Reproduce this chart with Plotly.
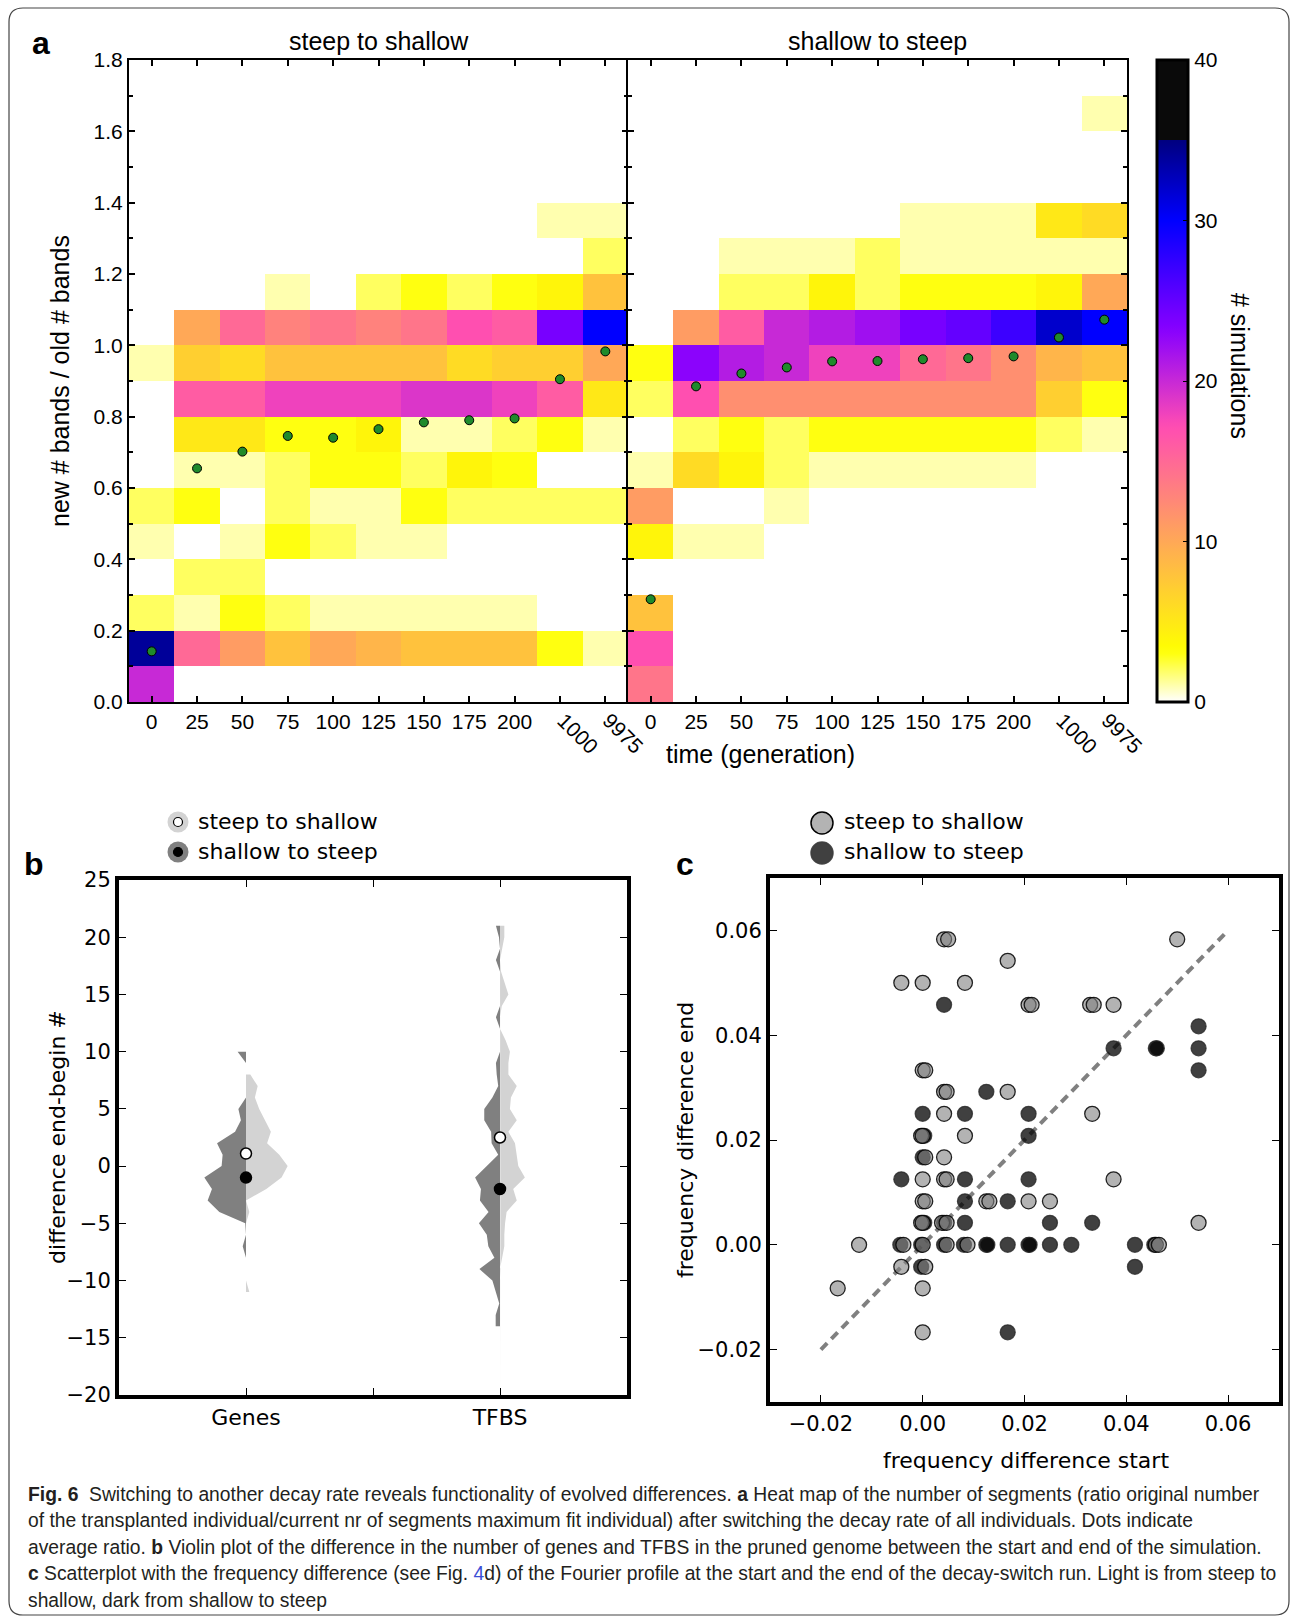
import plotly.graph_objects as go

W, H = 1295, 1621
def px(x): return x / W
def py(y): return 1 - y / H

# ---------------- DATA ----------------
time_labels = ['0', '25', '50', '75', '100', '125', '150', '175', '200', '1000', '9975']
ratio_bins = [0.05, 0.15, 0.25, 0.35, 0.45, 0.55, 0.65, 0.75, 0.85, 0.95,
              1.05, 1.15, 1.25, 1.35, 1.45, 1.55, 1.65, 1.75]

# rows = ratio bins (bottom to top), columns = time points
steep_to_shallow_counts = [
    [20, 0, 0, 0, 0, 0, 0, 0, 0, 0, 0],
    [34, 15, 11, 8, 10, 9, 8, 8, 8, 3, 1],
    [2, 1, 3, 2, 1, 1, 1, 1, 1, 0, 0],
    [0, 2, 2, 0, 0, 0, 0, 0, 0, 0, 0],
    [1, 0, 1, 3, 2, 1, 1, 0, 0, 0, 0],
    [2, 3, 0, 2, 1, 1, 3, 2, 2, 2, 2],
    [0, 1, 1, 2, 3, 3, 2, 4, 3, 0, 0],
    [0, 5, 5, 3, 3, 4, 1, 1, 2, 3, 1],
    [0, 16, 16, 18, 18, 18, 19, 19, 18, 16, 5],
    [1, 7, 6, 8, 8, 8, 8, 6, 7, 7, 10],
    [0, 10, 15, 13, 14, 13, 14, 17, 16, 24, 30],
    [0, 0, 0, 1, 0, 2, 3, 2, 3, 4, 8],
    [0, 0, 0, 0, 0, 0, 0, 0, 0, 0, 2],
    [0, 0, 0, 0, 0, 0, 0, 0, 0, 1, 1],
    [0, 0, 0, 0, 0, 0, 0, 0, 0, 0, 0],
    [0, 0, 0, 0, 0, 0, 0, 0, 0, 0, 0],
    [0, 0, 0, 0, 0, 0, 0, 0, 0, 0, 0],
    [0, 0, 0, 0, 0, 0, 0, 0, 0, 0, 0],
]
shallow_to_steep_counts = [
    [14, 0, 0, 0, 0, 0, 0, 0, 0, 0, 0],
    [17, 0, 0, 0, 0, 0, 0, 0, 0, 0, 0],
    [8, 0, 0, 0, 0, 0, 0, 0, 0, 0, 0],
    [0, 0, 0, 0, 0, 0, 0, 0, 0, 0, 0],
    [4, 1, 1, 0, 0, 0, 0, 0, 0, 0, 0],
    [11, 0, 0, 1, 0, 0, 0, 0, 0, 0, 0],
    [1, 6, 4, 2, 1, 1, 1, 1, 1, 0, 0],
    [0, 2, 3, 2, 3, 3, 3, 3, 3, 2, 1],
    [2, 17, 12, 12, 12, 12, 12, 12, 12, 7, 3],
    [3, 23, 21, 20, 18, 18, 15, 14, 12, 9, 8],
    [0, 11, 16, 20, 21, 22, 24, 25, 27, 32, 30],
    [0, 0, 2, 2, 4, 2, 3, 3, 3, 4, 10],
    [0, 0, 1, 1, 1, 2, 1, 1, 1, 1, 1],
    [0, 0, 0, 0, 0, 0, 1, 1, 1, 5, 6],
    [0, 0, 0, 0, 0, 0, 0, 0, 0, 0, 0],
    [0, 0, 0, 0, 0, 0, 0, 0, 0, 0, 0],
    [0, 0, 0, 0, 0, 0, 0, 0, 0, 0, 1],
    [0, 0, 0, 0, 0, 0, 0, 0, 0, 0, 0],
]
steep_to_shallow_mean = [0.142, 0.655, 0.702, 0.746, 0.741, 0.765, 0.784, 0.790, 0.795, 0.905, 0.983]
shallow_to_steep_mean = [0.288, 0.885, 0.921, 0.938, 0.955, 0.956, 0.961, 0.964, 0.969, 1.022, 1.072]
colorbar_ticks = [0, 10, 20, 30, 40]

# violin (b): half-widths per integer level
violin_categories = ['Genes', 'TFBS']
genes_dark_levels = [10, 9, 8, 7, 6, 5, 4, 3, 2, 1, 0, -1, -2, -3, -4, -5, -6, -7, -8]
genes_dark_widths = [0.033, 0, 0, 0, 0, 0.03, 0.02, 0.043, 0.114, 0.092, 0.096, 0.164, 0.134, 0.151, 0.105, 0.003, 0, 0.013, 0]
genes_light_levels = [8, 7, 6, 5, 4, 3, 2, 1, 0, -1, -2, -3, -4, -5, -6, -7, -8, -9, -10, -11]
genes_light_widths = [0.017, 0.046, 0.035, 0.052, 0.075, 0.098, 0.083, 0.131, 0.164, 0.14, 0.08, 0.0, 0.013, 0, 0, 0, 0, 0, 0, 0.013]
tfbs_dark_levels = [21, 20, 19, 18, 17, 16, 15, 14, 13, 12, 11, 10, 9, 8, 7, 6, 5, 4, 3, 2, 1, 0,
                    -1, -2, -3, -4, -5, -6, -7, -8, -9, -10, -11, -12, -13, -14]
tfbs_dark_widths = [0.016, 0.004, 0, 0.016, 0, 0, 0, 0, 0.016, 0, 0, 0, 0.016, 0.013, 0.007, 0.03, 0.062, 0.062, 0.035, 0.033, 0.007, 0.052,
                    0.098, 0.075, 0.079, 0.045, 0.083, 0.052, 0.046, 0.022, 0.081, 0.03, 0.017, 0.003, 0.017, 0.017]
tfbs_light_levels = [21, 20, 19, 18, 17, 16, 15, 14, 13, 12, 11, 10, 9, 8, 7, 6, 5, 4, 3, 2, 1, 0,
                     -1, -2, -3, -4, -5, -6, -7, -8, -9, -10, -15, -20]
tfbs_light_widths = [0.017, 0.017, 0.007, 0, 0.004, 0.02, 0.033, 0.007, 0, 0, 0.022, 0.039, 0.033, 0.033, 0.066, 0.043, 0.039, 0.066, 0.033, 0.059, 0.066, 0.072,
                     0.098, 0.052, 0.066, 0.026, 0.02, 0.017, 0.017, 0.007, 0.0, 0.002, 0.002, 0.002]
steep_to_shallow_violin_mean = [1.1, 2.5]
shallow_to_steep_violin_mean = [-1.0, -2.0]

# scatter (c)
light_x = [0.0042, 0.0050, 0.0167, -0.0042, 0.0, 0.0083, 0.0208, 0.0214, 0.0329, 0.0336, 0.0375, 0.05,
           0.0, 0.0005, 0.0042, 0.0047, 0.0167, 0.0042, 0.0333, -0.0003, 0.0, 0.0083, 0.0005, 0.0042,
           0.0, 0.0042, 0.0047, 0.0375, 0.0, 0.0005, 0.0125, 0.0131, 0.0208, 0.025, -0.0003, 0.0,
           0.0038, 0.0047, 0.0542, -0.0125, -0.0038, 0.0, 0.0047, 0.0088, 0.0458, 0.0464,
           -0.0042, 0.0005, -0.0167, 0.0, 0.0]
light_y = [0.0583, 0.0583, 0.0542, 0.05, 0.05, 0.05, 0.0458, 0.0458, 0.0458, 0.0458, 0.0458, 0.0583,
           0.0333, 0.0333, 0.0292, 0.0292, 0.0292, 0.025, 0.025, 0.0208, 0.0208, 0.0208, 0.0167, 0.0167,
           0.0125, 0.0125, 0.0125, 0.0125, 0.0083, 0.0083, 0.0083, 0.0083, 0.0083, 0.0083, 0.0042, 0.0042,
           0.0042, 0.0042, 0.0042, 0.0, 0.0, 0.0, 0.0, 0.0, 0.0, 0.0,
           -0.0042, -0.0042, -0.0083, -0.0083, -0.0167]
dark_x = [0.0042, 0.0125, 0.0, 0.0083, 0.0208, 0.0003, 0.0208, 0.0, -0.0042, 0.0083, 0.0208,
          0.0083, 0.0167, 0.0003, 0.0042, 0.0083, 0.025, 0.0333,
          -0.0044, -0.0003, 0.0042, 0.0081, 0.0125, 0.0127, 0.0167, 0.0208, 0.0210, 0.025, 0.0292, 0.0417, 0.0455,
          -0.0003, 0.0417, 0.0167, 0.0542, 0.0375, 0.0458, 0.0460, 0.0542, 0.0542]
dark_y = [0.0458, 0.0292, 0.025, 0.025, 0.025, 0.0208, 0.0208, 0.0167, 0.0125, 0.0125, 0.0125,
          0.0083, 0.0083, 0.0042, 0.0042, 0.0042, 0.0042, 0.0042,
          0.0, 0.0, 0.0, 0.0, 0.0, 0.0, 0.0, 0.0, 0.0, 0.0, 0.0, 0.0, 0.0,
          -0.0042, -0.0042, -0.0167, 0.0417, 0.0375, 0.0375, 0.0375, 0.0375, 0.0333]
diag_x = [-0.02, 0.06]
diag_y = [-0.02, 0.06]

# ---------------- COLORMAP (gnuplot2 reversed) ----------------
def clip(v): return max(0.0, min(1.0, v))
def gnuplot2(x):
    r = clip(x / 0.32 - 0.78125)
    g = clip(2 * x - 0.84)
    if x < 0.25:
        b = 4 * x
    elif x < 0.92:
        b = -2 * x + 1.84
    else:
        b = x / 0.08 - 11.5
    b = clip(b)
    return 'rgb(%d,%d,%d)' % (round(r * 255), round(g * 255), round(b * 255))

cscale = []
n = 70
for i in range(n + 1):
    p = 0.875 * i / n
    cscale.append([p, gnuplot2(1 - p)])
cscale.append([0.875, 'rgb(10,10,10)'])
cscale.append([1.0, 'rgb(10,10,10)'])

FA = 'Liberation Sans, Arial, sans-serif'
FD = 'DejaVu Sans, sans-serif'

fig = go.Figure()

# ---------------- PANEL A ----------------
cols = list(range(len(time_labels)))
fig.add_trace(go.Heatmap(
    z=steep_to_shallow_counts, x=cols, y=ratio_bins, xaxis='x', yaxis='y',
    colorscale=cscale, zmin=0, zmax=40, showscale=True, hoverinfo='skip',
    colorbar=dict(x=px(1157), xanchor='left', y=py(381), yanchor='middle',
                  len=642, lenmode='pixels', thickness=31, xpad=0, ypad=0,
                  outlinewidth=3, outlinecolor='black',
                  tickvals=colorbar_ticks, ticks='inside', ticklen=6, tickcolor='black',
                  tickfont=dict(family=FA, size=21, color='black'))))
fig.add_trace(go.Heatmap(
    z=shallow_to_steep_counts, x=cols, y=ratio_bins, xaxis='x2', yaxis='y2',
    colorscale=cscale, zmin=0, zmax=40, showscale=False, hoverinfo='skip'))
for xa, ya, m in [('x', 'y', steep_to_shallow_mean), ('x2', 'y2', shallow_to_steep_mean)]:
    fig.add_trace(go.Scatter(x=cols, y=m, xaxis=xa, yaxis=ya, mode='markers',
                             marker=dict(size=9, color='#1f8a2b', line=dict(color='black', width=1)),
                             showlegend=False, hoverinfo='skip'))

# ---------------- PANEL B ----------------
def half_poly(center, levels, widths, side):
    xs = [center] + [center + side * w for w in widths] + [center, center]
    ys = [levels[0]] + list(levels) + [levels[-1], levels[0]]
    return xs, ys

for center, lv, wd, side, col in [
        (1, genes_dark_levels, genes_dark_widths, -1, '#808080'),
        (1, genes_light_levels, genes_light_widths, 1, '#d3d3d3'),
        (2, tfbs_dark_levels, tfbs_dark_widths, -1, '#808080'),
        (2, tfbs_light_levels, tfbs_light_widths, 1, '#d3d3d3')]:
    xs, ys = half_poly(center, lv, wd, side)
    fig.add_trace(go.Scatter(x=xs, y=ys, xaxis='x3', yaxis='y3', mode='lines', fill='toself',
                             fillcolor=col, line=dict(width=0, color=col),
                             showlegend=False, hoverinfo='skip'))
fig.add_trace(go.Scatter(x=[1, 2], y=steep_to_shallow_violin_mean, xaxis='x3', yaxis='y3', mode='markers',
                         marker=dict(size=11, color='white', line=dict(color='black', width=1.5)),
                         showlegend=False, hoverinfo='skip'))
fig.add_trace(go.Scatter(x=[1, 2], y=shallow_to_steep_violin_mean, xaxis='x3', yaxis='y3', mode='markers',
                         marker=dict(size=11, color='black', line=dict(color='black', width=1.5)),
                         showlegend=False, hoverinfo='skip'))

# ---------------- PANEL C ----------------
fig.add_trace(go.Scatter(x=diag_x, y=diag_y, xaxis='x4', yaxis='y4', mode='lines',
                         line=dict(color='#808080', width=4, dash='9px,6px'),
                         showlegend=False, hoverinfo='skip'))
fig.add_trace(go.Scatter(x=dark_x, y=dark_y, xaxis='x4', yaxis='y4', mode='markers',
                         marker=dict(size=15, color='rgba(0,0,0,0.75)',
                                     line=dict(color='rgba(40,40,40,0.8)', width=1.3)),
                         showlegend=False, hoverinfo='skip'))
fig.add_trace(go.Scatter(x=light_x, y=light_y, xaxis='x4', yaxis='y4', mode='markers',
                         marker=dict(size=15, color='rgba(128,128,128,0.6)',
                                     line=dict(color='rgba(0,0,0,0.85)', width=1.3)),
                         showlegend=False, hoverinfo='skip'))

# ---------------- AXES ----------------
ax_a = dict(showline=True, linecolor='black', linewidth=2, mirror='ticks', ticks='inside',
            ticklen=6, tickwidth=1.5, tickcolor='black', showgrid=False, zeroline=False,
            automargin=False, tickfont=dict(family=FA, size=21, color='black'))
xa_common = dict(ax_a, range=[-0.5, 10.5], tickvals=cols,
                 ticktext=time_labels[:9] + ['', ''])
ya_common = dict(ax_a, range=[0, 1.8], dtick=0.2, tick0=0, tickformat='.1f',
                 minor=dict(dtick=0.1, ticks='inside', ticklen=4, tickwidth=1.5, tickcolor='black'))
fig.update_layout(
    xaxis=dict(xa_common, domain=[px(129), px(628)], anchor='y'),
    yaxis=dict(ya_common, domain=[py(702), py(60)], anchor='x'),
    xaxis2=dict(xa_common, domain=[px(628), px(1127)], anchor='y2'),
    yaxis2=dict(ya_common, domain=[py(702), py(60)], anchor='x2', showticklabels=False),
)
ax_bc = dict(showline=True, linecolor='black', linewidth=4, mirror='ticks', ticks='inside',
             ticklen=7, tickwidth=1, tickcolor='black', showgrid=False, zeroline=False,
             automargin=False, tickfont=dict(family=FD, size=21, color='black'))
fig.update_layout(
    xaxis3=dict(ax_bc, domain=[px(119), px(627)], anchor='y3', range=[0.5, 2.5],
                tickvals=[1, 1.5, 2], ticktext=[violin_categories[0], '', violin_categories[1]],
                tickfont=dict(family=FD, size=22, color='black')),
    yaxis3=dict(ax_bc, domain=[py(1395), py(880)], anchor='x3', range=[-20, 25],
                tickvals=[-20, -15, -10, -5, 0, 5, 10, 15, 20, 25]),
    xaxis4=dict(ax_bc, domain=[px(770), px(1279)], anchor='y4', range=[-0.03, 0.07],
                tickvals=[-0.02, 0, 0.02, 0.04, 0.06], tickformat='.2f'),
    yaxis4=dict(ax_bc, domain=[py(1402), py(878)], anchor='x4', range=[-0.03, 0.07],
                tickvals=[-0.02, 0, 0.02, 0.04, 0.06], tickformat='.2f'),
)

# ---------------- ANNOTATIONS ----------------
ann = []
def text(x, y, s, size, fam, angle=0, xanchor='center', yanchor='middle', color='black'):
    ann.append(dict(x=x, y=y, xref='paper', yref='paper', text=s, showarrow=False,
                    font=dict(family=fam, size=size, color=color), textangle=angle,
                    xanchor=xanchor, yanchor=yanchor))

text(px(41), py(43), '<b>a</b>', 32, FA)
text(px(34), py(864), '<b>b</b>', 32, FA)
text(px(685), py(864), '<b>c</b>', 32, FA)
text(px(378.5), py(41), 'steep to shallow', 25, FA)
text(px(877.5), py(41), 'shallow to steep', 25, FA)
text(px(760), py(754), 'time (generation)', 25, FA)
text(px(60), py(381), 'new # bands / old # bands', 25, FA, angle=-90)
text(px(1240), py(366), '# simulations', 25, FA, angle=90)

# rotated tick labels for the two last time points
for xa in ['x', 'x2']:
    for ci in [9, 10]:
        ann.append(dict(x=ci + 0.4, y=py(733), xref=xa, yref='paper', text=time_labels[ci],
                        showarrow=False, textangle=45, xanchor='center', yanchor='middle',
                        font=dict(family=FA, size=21, color='black')))

# panel b legend text & titles
text(px(196), py(822), 'steep to shallow', 22, FD, xanchor='left')
text(px(196), py(852), 'shallow to steep', 22, FD, xanchor='left')
text(px(57), py(1137), 'difference end-begin #', 22, FD, angle=-90)
# panel c
text(px(842), py(822), 'steep to shallow', 22, FD, xanchor='left')
text(px(842), py(852), 'shallow to steep', 22, FD, xanchor='left')
text(px(685), py(1140), 'frequency difference end', 22, FD, angle=-90)
text(px(1026), py(1460), 'frequency difference start', 22, FD)

# caption
FC = 'Liberation Sans, Arial, sans-serif'
cap = [
    "<b>Fig. 6</b>  Switching to another decay rate reveals functionality of evolved differences. <b>a</b> Heat map of the number of segments (ratio original number",
    "of the transplanted individual/current nr of segments maximum fit individual) after switching the decay rate of all individuals. Dots indicate",
    "average ratio. <b>b</b> Violin plot of the difference in the number of genes and TFBS in the pruned genome between the start and end of the simulation.",
    "<b>c</b> Scatterplot with the frequency difference (see Fig. <span style='color:#3d4fd6'>4</span>d) of the Fourier profile at the start and the end of the decay-switch run. Light is from steep to",
    "shallow, dark from shallow to steep",
]
for i, line in enumerate(cap):
    text(px(26), py(1494 + 26.6 * i), line, 19.3, FC, xanchor='left', color='#231f20')

# ---------------- SHAPES ----------------
shapes = []
def circ(cx, cy, r, fill, lc, lw):
    shapes.append(dict(type='circle', xref='paper', yref='paper',
                       x0=px(cx - r), x1=px(cx + r), y0=py(cy + r), y1=py(cy - r),
                       fillcolor=fill, line=dict(color=lc, width=lw)))
# legend b
circ(178, 822, 10.5, '#d3d3d3', '#d3d3d3', 0)
circ(178, 822, 4.5, 'white', 'black', 1.2)
circ(178, 852, 10.5, '#808080', '#808080', 0)
circ(178, 852, 4.5, 'black', 'black', 1.2)
# legend c
circ(822, 823, 11, 'rgba(128,128,128,0.6)', 'black', 1.5)
circ(822, 853, 11, 'rgba(0,0,0,0.75)', 'rgba(60,60,60,0.9)', 1.5)

# rounded outer border
x0, x1, y0, y1, r = 9, 1289, 8, 1615, 14
pts = lambda x, y: '%f,%f' % (px(x), py(y))
path = ('M' + pts(x0 + r, y0) + ' L' + pts(x1 - r, y0) + ' Q' + pts(x1, y0) + ' ' + pts(x1, y0 + r) +
        ' L' + pts(x1, y1 - r) + ' Q' + pts(x1, y1) + ' ' + pts(x1 - r, y1) +
        ' L' + pts(x0 + r, y1) + ' Q' + pts(x0, y1) + ' ' + pts(x0, y1 - r) +
        ' L' + pts(x0, y0 + r) + ' Q' + pts(x0, y0) + ' ' + pts(x0 + r, y0) + ' Z')
shapes.append(dict(type='path', xref='paper', yref='paper', path=path,
                   line=dict(color='#444444', width=1.2), layer='below'))

fig.update_layout(width=W, height=H, margin=dict(l=0, r=0, t=0, b=0, pad=0, autoexpand=False),
                  paper_bgcolor='white', plot_bgcolor='white', showlegend=False,
                  annotations=ann, shapes=shapes)

fig.write_html('out.html', config={'displayModeBar': False},
               post_script="document.body.style.margin='0';"
                           "document.body.style.overflow='hidden';"
                           "document.documentElement.style.overflow='hidden';")
